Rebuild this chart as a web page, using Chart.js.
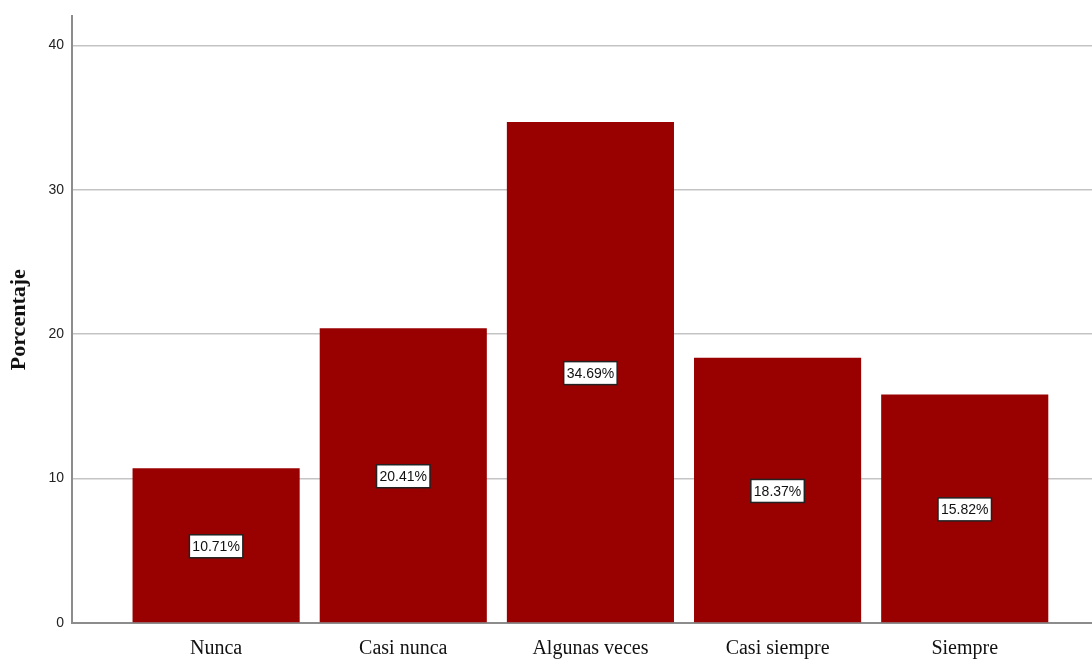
<!DOCTYPE html>
<html>
<head>
<meta charset="utf-8">
<script src="https://cdn.jsdelivr.net/npm/chart.js@4"></script>
<style>
  html, body { margin: 0; padding: 0; background: #fff; }
  #wrap { width: 1092px; height: 659px; position: relative; }
</style>
</head>
<body>
<div id="wrap"><canvas id="grafico"></canvas></div>
<script>
/* datos */
const categorias = ["Nunca", "Casi nunca", "Algunas veces", "Casi siempre", "Siempre"];
const porcentajes = [10.71, 20.41, 34.69, 18.37, 15.82];
const ticksY = [0, 10, 20, 30, 40];

const ROJO = "#990000";

/* etiquetas en el centro de cada barra */
const etiquetasBarras = {
  id: "etiquetasBarras",
  afterDatasetsDraw(chart) {
    const ctx = chart.ctx;
    const meta = chart.getDatasetMeta(0);
    ctx.save();
    ctx.font = "14px 'Liberation Sans', Arial, sans-serif";
    ctx.textAlign = "center";
    ctx.textBaseline = "middle";
    meta.data.forEach((bar, i) => {
      const txt = porcentajes[i].toFixed(2) + "%";
      const x = bar.x;
      const y = (bar.y + bar.base) / 2 + 1;
      const w = ctx.measureText(txt).width + 6;
      const h = 23;
      ctx.fillStyle = "#fff";
      ctx.fillRect(x - w / 2, y - h / 2, w, h);
      ctx.strokeStyle = "#222";
      ctx.lineWidth = 1.5;
      ctx.strokeRect(x - w / 2, y - h / 2, w, h);
      ctx.fillStyle = "#111";
      ctx.fillText(txt, x, y + 1);
    });
    ctx.restore();
  }
};

new Chart(document.getElementById("grafico"), {
  type: "bar",
  data: {
    datasets: [{
      data: porcentajes.map((v, i) => ({ x: i, y: v })),
      backgroundColor: ROJO,
      borderWidth: 0,
      barPercentage: 0.893,
      categoryPercentage: 1
    }]
  },
  options: {
    responsive: true,
    maintainAspectRatio: false,
    animation: false,
    layout: { padding: { top: 15, right: 0, left: 0, bottom: 0 } },
    plugins: {
      legend: { display: false },
      tooltip: { enabled: false }
    },
    scales: {
      x: {
        type: "linear",
        min: -0.77,
        max: 4.68,
        offset: false,
        afterBuildTicks: (s) => { s.ticks = categorias.map((_, i) => ({ value: i })); },
        afterFit: (s) => { s.height = 36; },
        grid: { display: false, offset: false },
        border: { display: true, color: "#8c8c8c", width: 2 },
        ticks: {
          autoSkip: false,
          maxRotation: 0,
          padding: 6,
          color: "#111",
          font: { family: "'Liberation Serif', 'Times New Roman', serif", size: 20 },
          callback: (v) => categorias[v]
        }
      },
      y: {
        min: 0,
        max: 42,
        afterBuildTicks: (s) => { s.ticks = ticksY.map(v => ({ value: v })); },
        afterFit: (s) => { s.width = 72; },
        grid: { color: "#c4c4c4", lineWidth: 1.5, drawTicks: false },
        border: { display: true, color: "#8c8c8c", width: 2 },
        title: {
          display: true,
          text: "Porcentaje",
          color: "#111",
          padding: { top: 6, bottom: 0 },
          font: { family: "'Liberation Serif', 'Times New Roman', serif", size: 22, weight: "bold" }
        },
        ticks: {
          padding: 8,
          color: "#222",
          font: { family: "'Liberation Sans', Arial, sans-serif", size: 14 }
        }
      }
    }
  },
  plugins: [etiquetasBarras]
});
</script>
</body>
</html>
